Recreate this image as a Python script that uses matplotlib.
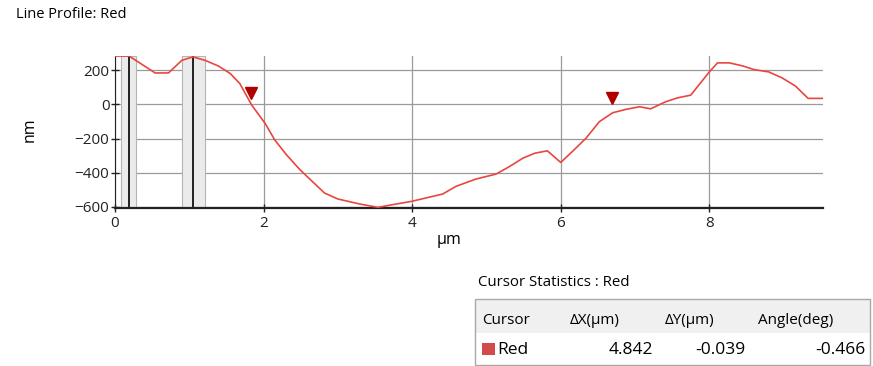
import matplotlib
matplotlib.use("Agg")
import matplotlib.pyplot as plt
from matplotlib.patches import Rectangle

plt.rcParams["font.family"] = ["Open Sans", "DejaVu Sans"]

# profile data (um, nm)
x_um = [0.00, 0.19, 0.54, 0.72, 0.90, 1.05, 1.21, 1.39, 1.55, 1.68, 1.84, 2.02,
        2.15, 2.31, 2.49, 2.82, 3.00, 3.29, 3.54, 3.74, 3.99, 4.41, 4.59, 4.86,
        5.13, 5.31, 5.49, 5.65, 5.82, 6.00, 6.18, 6.34, 6.52, 6.70, 6.88, 7.06,
        7.21, 7.41, 7.57, 7.75, 8.00, 8.11, 8.27, 8.45, 8.60, 8.80, 8.98, 9.16,
        9.33, 9.53]
z_nm = [283, 283, 184, 184, 258, 278, 258, 225, 181, 122, -4, -111,
        -208, -296, -383, -519, -554, -583, -603, -587, -568, -525, -480, -437,
        -408, -364, -315, -286, -272, -340, -266, -198, -101, -49, -29, -14,
        -26, 15, 38, 54, 190, 243, 243, 225, 204, 190, 155, 107,
        35, 35]

# cursor markers
marker_x = [1.837, 6.687]
marker_z = [66, 37]

# cursor bands: (left, right, line)
bands = [(0.08, 0.28, 0.19), (0.90, 1.21, 1.05)]

table_header = ["Cursor", "ΔX(µm)", "ΔY(µm)", "Angle(deg)"]
table_row = ["Red", "4.842", "-0.039", "-0.466"]

W, H = 873, 366
fig = plt.figure(figsize=(W / 100, H / 100), dpi=100)


def fx(px):
    return px / W


def fy(py):
    return 1 - py / H


ax = fig.add_axes([fx(115), fy(207.7), fx(823) - fx(115), fy(55.7) - fy(207.7)])

for lo, hi, xc in bands:
    ax.axvspan(lo, hi, facecolor="#EBEBEB", edgecolor="#B5B5B5", lw=0.8, zorder=1)
    ax.axvline(xc, color="#111111", lw=1.3, zorder=2)

ax.plot(x_um, z_nm, color="#E8463F", lw=1.2, zorder=3)
ax.plot(marker_x, marker_z, linestyle="none", marker="v", markersize=9,
        color="#B00000", zorder=4)

ax.set_xlim(0, 9.53)
ax.set_ylim(-605, 285)
ax.set_xticks([0, 2, 4, 6, 8])
ax.set_yticks([-600, -400, -200, 0, 200])
ax.grid(True, color="#9A9A9A", lw=0.9)
ax.set_axisbelow(True)
for s in ["top", "right"]:
    ax.spines[s].set_visible(False)
ax.spines["left"].set_color("#222222")
ax.spines["bottom"].set_color("#222222")
ax.spines["bottom"].set_linewidth(1.6)
ax.tick_params(direction="inout", length=6, width=1, labelsize=11,
               colors="#222222", pad=1)
ax.tick_params(axis="x", pad=3)
ax.set_xlabel("µm", fontsize=11.5)
ax.set_ylabel("nm", fontsize=11.5)
ax.xaxis.set_label_coords(0.472, -0.16)
ax.yaxis.set_label_coords(-0.109, 0.51)

fig.text(fx(16), fy(15), "Line Profile: Red", fontsize=10.5, va="center", ha="left")

# cursor statistics table
fig.text(fx(478), fy(283), "Cursor Statistics : Red", fontsize=10.8, va="center", ha="left")
fig.patches.append(Rectangle((fx(475), fy(333)), fx(870) - fx(475), fy(299) - fy(333),
                             transform=fig.transFigure, facecolor="#F0F0F0",
                             edgecolor="none", zorder=1))
fig.patches.append(Rectangle((fx(475), fy(365)), fx(870) - fx(475), fy(299) - fy(365),
                             transform=fig.transFigure, facecolor="none",
                             edgecolor="#A8A8A8", lw=1.0, zorder=2))
header_x = [482, 570, 665, 758]
for hx, txt in zip(header_x, table_header):
    fig.text(fx(hx), fy(321), txt, fontsize=11, va="center", ha="left")
fig.patches.append(Rectangle((fx(482), fy(355)), fx(495) - fx(482), fy(343) - fy(355),
                             transform=fig.transFigure, facecolor="#D24A4A",
                             edgecolor="none", zorder=3))
fig.text(fx(497), fy(350), table_row[0], fontsize=12.5, va="center", ha="left")
row_x = [653, 745, 866]
for rx, txt in zip(row_x, table_row[1:]):
    fig.text(fx(rx), fy(350), txt, fontsize=12.5, va="center", ha="right")

fig.savefig("out.png", dpi=100)
